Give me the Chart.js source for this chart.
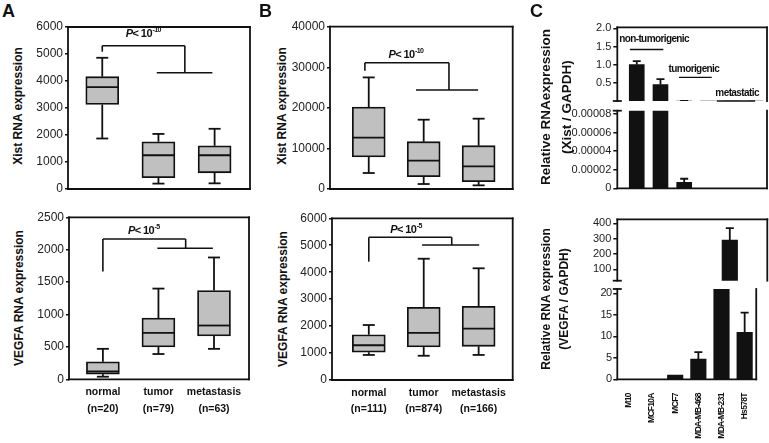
<!DOCTYPE html>
<html>
<head>
<meta charset="utf-8">
<script src="https://cdn.jsdelivr.net/npm/chart.js@4.4.1/dist/chart.umd.min.js"></script>
<style>
  body { margin: 0; background: #fff; }
  #fig { position: relative; width: 769px; height: 443px; overflow: hidden; font-family: 'Liberation Sans', Arial, sans-serif; color: #111; }
  canvas { position: absolute; }
  .letter { position: absolute; font-weight: bold; font-size: 18px; line-height: 18px; }
  .ttl { position: absolute; font-weight: bold; white-space: nowrap; text-align: center; transform: translate(-50%, -50%) rotate(-90deg); }
</style>
</head>
<body>
<div id="fig">
  <canvas id="aXist" width="230" height="200" style="left:30px;top:0px"></canvas>
  <canvas id="aVegf" width="230" height="243" style="left:30px;top:200px"></canvas>
  <canvas id="bXist" width="230" height="200" style="left:290px;top:0px"></canvas>
  <canvas id="bVegf" width="230" height="243" style="left:290px;top:200px"></canvas>
  <canvas id="cXistHi" width="189" height="110" style="left:580px;top:0px"></canvas>
  <canvas id="cXistLo" width="209" height="100" style="left:560px;top:100px"></canvas>
  <canvas id="cVegfHi" width="189" height="90" style="left:580px;top:200px"></canvas>
  <canvas id="cVegfLo" width="189" height="163" style="left:580px;top:280px"></canvas>

  <div class="letter" style="left:2px;top:2px">A</div>
  <div class="letter" style="left:259px;top:2px">B</div>
  <div class="letter" style="left:530px;top:2px">C</div>

  <div class="ttl" style="left:18px;top:106px;font-size:12px">Xist RNA expression</div>
  <div class="ttl" style="left:18.5px;top:298px;font-size:12px">VEGFA RNA expression</div>
  <div class="ttl" style="left:282px;top:106px;font-size:12px">Xist RNA expression</div>
  <div class="ttl" style="left:283px;top:299px;font-size:12px">VEGFA RNA expression</div>
  <div class="ttl" style="left:556px;top:107px;font-size:13.5px;line-height:20.5px">Relative RNAexpression<br>(Xist / GAPDH)</div>
  <div class="ttl" style="left:555px;top:299px;font-size:12px;line-height:17.5px">Relative RNA expression<br>(VEGFA / GAPDH)</div>
</div>
<script>
const groups = ["normal", "tumor", "metastasis"];
const aCounts = ["(n=20)", "(n=79)", "(n=63)"];
const bCounts = ["(n=111)", "(n=874)", "(n=166)"];

// box plots: whisker low, Q1, median, Q3, whisker high
const aXistMin = [1870, 200, 210];
const aXistQ1 = [3130, 420, 600];
const aXistMed = [3770, 1250, 1250];
const aXistQ3 = [4160, 1750, 1600];
const aXistMax = [4860, 2040, 2230];

const aVegfMin = [40, 390, 470];
const aVegfQ1 = [80, 500, 670];
const aVegfMed = [120, 715, 830];
const aVegfQ3 = [270, 945, 1370];
const aVegfMax = [470, 1400, 1880];

const bXistMin = [3940, 1230, 900];
const bXistQ1 = [7890, 3040, 1810];
const bXistMed = [12650, 6980, 5590];
const bXistQ3 = [20200, 11660, 10680];
const bXistMax = [27500, 17080, 17330];

const bVegfMin = [930, 900, 930];
const bVegfQ1 = [1030, 1225, 1250];
const bVegfMed = [1290, 1745, 1905];
const bVegfQ3 = [1680, 2700, 2735];
const bVegfMax = [2040, 4500, 4145];

// cell lines (panel C)
const cellLines = ["M10", "MCF10A", "MCF7", "MDA-MB-468", "MDA-MB-231", "Hs578T"];
const xistRel = [1.0, 0.45, 0.0000065, 0, 0, 0];
const xistErr = [0.1, 0.15, 0.0000038, 0, 0, 0];
const vegfRel = [0, 0, 1.0, 4.7, 290, 10.9];
const vegfErr = [0, 0, 0, 1.6, 78, 4.6];

const xistTicksHi = [0.5, 1.0, 1.5, 2.0];
const xistTicksLo = [0, 0.00002, 0.00004, 0.00006, 0.00008];
const vegfTicksHi = [100, 200, 300, 400];
const vegfTicksLo = [0, 5, 10, 15, 20];

const ink = "#111";
const labelFont = "'Liberation Sans', Arial, sans-serif";
Chart.defaults.font.family = labelFont;

function seg(ctx, x0, y0, x1, y1) {
  ctx.beginPath();
  ctx.moveTo(x0, y0);
  ctx.lineTo(x1, y1);
  ctx.stroke();
}

// whiskers, medians, frame, brackets, error bars, axis breaks
const decor = {
  id: "decor",
  beforeDraw(chart, args, o) {
    if (o.squeeze) chart.ctx.letterSpacing = o.squeeze;
  },
  afterDatasetsDraw(chart, args, o) {
    const { ctx, chartArea: a } = chart;
    const X = v => chart.scales.x.getPixelForValue(v);
    const Y = v => chart.scales.y.getPixelForValue(v);
    ctx.save();
    ctx.strokeStyle = ink;
    ctx.fillStyle = ink;
    ctx.lineWidth = 1.8;

    if (o.stats) {
      const s = o.stats;
      s.med.forEach((m, i) => {
        const px = X(i + 1);
        seg(ctx, px, Y(s.q3[i]), px, Y(s.max[i]));
        seg(ctx, px - 6, Y(s.max[i]), px + 6, Y(s.max[i]));
        seg(ctx, px, Y(s.q1[i]), px, Y(s.min[i]));
        seg(ctx, px - 6, Y(s.min[i]), px + 6, Y(s.min[i]));
        seg(ctx, px - 16, Y(m), px + 16, Y(m));
      });
    }

    if (o.err) {
      ctx.save();
      ctx.beginPath();
      ctx.rect(a.left, a.top, a.right - a.left, a.bottom - a.top);
      ctx.clip();
      chart.getDatasetMeta(0).data.forEach((bar, i) => {
        const v = o.val[i], e = o.err[i];
        if (!e) return;
        seg(ctx, bar.x, Y(v), bar.x, Y(v + e));
        seg(ctx, bar.x - 4, Y(v + e), bar.x + 4, Y(v + e));
      });
      ctx.restore();
    }

    const f = o.frame;
    ctx.lineCap = "square";
    if (f.includes("t")) seg(ctx, a.left, a.top, a.right, a.top);
    if (f.includes("b")) seg(ctx, a.left, a.bottom, a.right, a.bottom);
    if (f.includes("l")) seg(ctx, a.left, a.top, a.left, a.bottom);
    if (f.includes("r")) seg(ctx, a.right, a.top, a.right, a.bottom);
    ctx.lineCap = "butt";
    if (o.breakTop) seg(ctx, a.left - 4.5, a.top, a.left + 4.5, a.top);
    if (o.breakBottom) seg(ctx, a.left - 4.5, a.bottom, a.left + 4.5, a.bottom);

    ctx.letterSpacing = "-0.6px";
    if (o.bracket) {
      const b = o.bracket;
      ctx.lineWidth = 1.6;
      seg(ctx, X(b.leg), Y(b.legLow), X(b.leg), Y(b.top));
      seg(ctx, X(b.leg), Y(b.top), X(b.joint), Y(b.top));
      seg(ctx, X(b.joint), Y(b.top), X(b.joint), Y(b.low));
      seg(ctx, X(b.from), Y(b.low), X(b.to), Y(b.low));
      let tx = X(b.tx);
      const ty = Y(b.ty);
      ctx.textBaseline = "middle";
      ctx.textAlign = "left";
      ctx.font = "italic bold 11px " + labelFont;
      ctx.fillText("P", tx, ty);
      tx += ctx.measureText("P").width;
      ctx.font = "bold 11px " + labelFont;
      ctx.fillText("< 10", tx, ty);
      tx += ctx.measureText("< 10").width;
      ctx.font = "bold 7px " + labelFont;
      ctx.fillText(b.exp, tx + 0.5, ty - 3.5);
    }

    if (o.groups) {
      ctx.lineWidth = 1.4;
      ctx.textBaseline = "middle";
      ctx.textAlign = "center";
      ctx.font = "bold 10px " + labelFont;
      o.groups.forEach(g => {
        seg(ctx, X(g.x0), Y(g.ly), X(g.x1), Y(g.ly));
        ctx.fillText(g.text, X(g.tx), Y(g.ty));
      });
    }
    ctx.restore();
  }
};

function boxChart(id, o) {
  return new Chart(document.getElementById(id), {
    type: "bar",
    data: {
      datasets: [{
        data: groups.map((g, i) => ({ x: i + 1, y: [o.q1[i], o.q3[i]] })),
        backgroundColor: "#c0c0c0",
        borderColor: ink,
        borderWidth: 1.8,
        borderSkipped: false,
        barThickness: 33,
      }],
    },
    options: {
      responsive: false,
      animation: false,
      layout: { autoPadding: false, padding: { left: 0, top: o.padTop, right: o.padRight, bottom: 0 } },
      plugins: {
        legend: { display: false },
        tooltip: { enabled: false },
        decor: {
          stats: { min: o.min, q1: o.q1, med: o.med, q3: o.q3, max: o.max },
          frame: "tlbr",
          bracket: o.bracket,
        },
      },
      scales: {
        x: {
          type: "linear",
          offset: false,
          min: o.xMin,
          max: o.xMax,
          grid: { display: false, drawTicks: false },
          border: { display: false },
          afterBuildTicks: s => { s.ticks = groups.map((g, i) => ({ value: i + 1 })); },
          afterFit: s => { s.height = o.xh; },
          ticks: {
            display: !!o.counts,
            autoSkip: false,
            maxRotation: 0,
            padding: 5,
            color: ink,
            font: { weight: "bold", size: 10.5, lineHeight: 1.55 },
            callback: v => [groups[v - 1], o.counts ? o.counts[v - 1] : ""],
          },
        },
        y: {
          min: 0,
          max: o.yMax,
          ticks: { stepSize: o.step, color: "#222", padding: 2, font: { size: 12 }, callback: v => String(v) },
          grid: { drawOnChartArea: false, tickLength: 3, color: ink, lineWidth: 1.5 },
          border: { display: false },
          afterFit: s => { s.width = o.yw; },
        },
      },
    },
    plugins: [decor],
  });
}

boxChart("aXist", {
  min: aXistMin, q1: aXistQ1, med: aXistMed, q3: aXistQ3, max: aXistMax,
  yMax: 6000, step: 1000, xMin: 0.39, xMax: 3.63,
  yw: 38, xh: 11, padTop: 27, padRight: 10,
  bracket: { leg: 1, joint: 2.47, from: 1.97, to: 2.96, legLow: 5085, top: 5307, low: 4307, tx: 1.42, ty: 5752, exp: "-10" },
});

boxChart("aVegf", {
  min: aVegfMin, q1: aVegfQ1, med: aVegfMed, q3: aVegfQ3, max: aVegfMax,
  yMax: 2500, step: 500, xMin: 0.39, xMax: 3.63, counts: aCounts,
  yw: 39, xh: 63.7, padTop: 17.3, padRight: 11,
  bracket: { leg: 1, joint: 2.49, from: 1.98, to: 2.98, legLow: 1662, top: 2166, low: 2022, tx: 1.45, ty: 2294, exp: "-5" },
});

boxChart("bXist", {
  min: bXistMin, q1: bXistQ1, med: bXistMed, q3: bXistQ3, max: bXistMax,
  yMax: 40000, step: 10000, xMin: 0.295, xMax: 3.62,
  yw: 40, xh: 11, padTop: 26.7, padRight: 7.3,
  bracket: { leg: 0.93, joint: 2.46, from: 1.86, to: 2.99, legLow: 29160, top: 31130, low: 24394, tx: 1.36, ty: 33018, exp: "-10" },
});

boxChart("bVegf", {
  min: bVegfMin, q1: bVegfQ1, med: bVegfMed, q3: bVegfQ3, max: bVegfMax,
  yMax: 6000, step: 1000, xMin: 0.33, xMax: 3.62, counts: bCounts,
  yw: 42, xh: 63, padTop: 18.3, padRight: 7.3,
  bracket: { leg: 1, joint: 2.51, from: 1.97, to: 3.01, legLow: 4392, top: 5295, low: 5010, tx: 1.39, ty: 5567, exp: "-5" },
});

// one half of a broken-axis bar chart
function barPart(id, o) {
  const linearX = o.xMin !== undefined;
  return new Chart(document.getElementById(id), {
    type: "bar",
    data: {
      labels: cellLines,
      datasets: [{
        data: linearX ? o.val.map((v, i) => ({ x: i, y: v })) : o.val,
        backgroundColor: ink,
        borderWidth: 0,
        barThickness: o.barW,
        clip: 0,
      }],
    },
    options: {
      responsive: false,
      animation: false,
      layout: { autoPadding: false, padding: { left: 0, top: o.padTop, right: o.padRight, bottom: 0 } },
      plugins: {
        legend: { display: false },
        tooltip: { enabled: false },
        decor: {
          val: o.val, err: o.err, frame: o.frame, squeeze: o.squeeze,
          breakTop: o.breakTop, breakBottom: o.breakBottom, groups: o.groups,
        },
      },
      scales: {
        x: Object.assign(linearX ? { type: "linear", offset: false, min: o.xMin, max: o.xMax } : { type: "category" }, {
          grid: { display: false, drawTicks: false },
          border: { display: false },
          afterFit: s => { s.height = o.xh; },
          ticks: {
            display: !!o.showLabels,
            autoSkip: false,
            minRotation: 90,
            maxRotation: 90,
            padding: 14,
            color: ink,
            font: { weight: "bold", size: 8.5 },
          },
        }),
        y: {
          min: o.yMin,
          max: o.yMax,
          afterBuildTicks: s => { s.ticks = o.ticks.map(v => ({ value: v })); },
          ticks: { color: "#222", padding: 2, font: { size: 11 }, callback: o.fmt },
          grid: { drawOnChartArea: false, tickLength: 4, color: ink, lineWidth: 1.5 },
          border: { display: false },
          afterFit: s => { s.width = o.yw; },
        },
      },
    },
    plugins: [decor],
  });
}

barPart("cXistHi", {
  val: xistRel, err: xistErr, xMin: -0.82, xMax: 5.49, barW: 15,
  yMin: 0, yMax: 2.03, ticks: xistTicksHi, fmt: v => v.toFixed(1),
  yw: 37.3, xh: 9, padTop: 27.3, padRight: 2, frame: "tlr", breakBottom: true,
  groups: [
    { text: "non-tumorigenic", x0: -0.29, x1: 1.12, tx: 0.73, ly: 1.42, ty: 1.69 },
    { text: "tumorigenic", x0: 1.78, x1: 3.16, tx: 2.41, ly: 0.65, ty: 0.88 },
    { text: "metastatic", x0: 3.37, x1: 4.99, tx: 4.23, ly: 0.0, ty: 0.21 },
  ],
});

barPart("cXistLo", {
  val: xistRel, err: xistErr, xMin: -0.82, xMax: 5.49, barW: 15,
  yMin: 0, yMax: 0.0000836, ticks: xistTicksLo, fmt: v => (v === 0 ? "0" : v.toFixed(5)),
  yw: 57.3, xh: 11.7, padTop: 10.7, padRight: 2, frame: "lbr", breakTop: true,
});

barPart("cVegfHi", {
  val: vegfRel, err: vegfErr, barW: 15.5,
  yMin: 26, yMax: 426, ticks: vegfTicksHi, fmt: v => String(v),
  yw: 37.3, xh: 9.3, padTop: 19.3, padRight: 1.7, frame: "tlr", breakBottom: true,
});

barPart("cVegfLo", {
  val: vegfRel, err: vegfErr, barW: 15.5, showLabels: true, squeeze: "-0.7px",
  yMin: 0, yMax: 21, ticks: vegfTicksLo, fmt: v => String(v),
  yw: 37.3, xh: 63.7, padTop: 9, padRight: 1.7, frame: "lbr", breakTop: true,
});
</script>
</body>
</html>
